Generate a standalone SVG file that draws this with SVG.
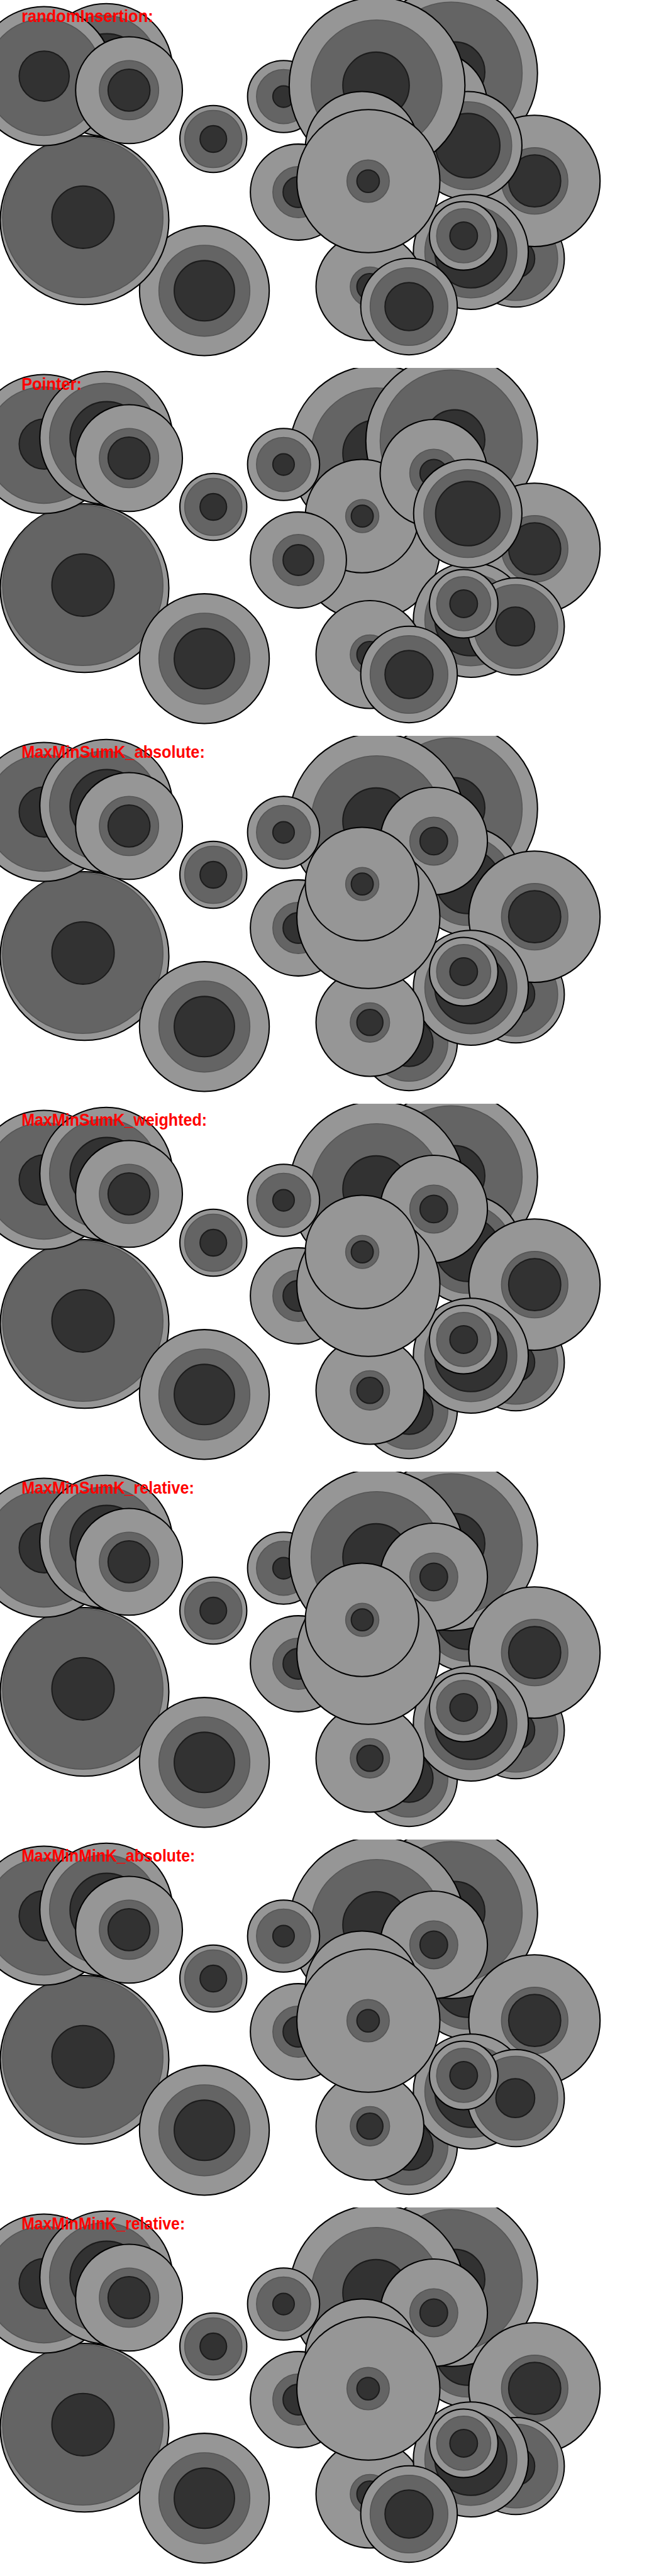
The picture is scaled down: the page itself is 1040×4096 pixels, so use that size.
<svg xmlns="http://www.w3.org/2000/svg" xmlns:xlink="http://www.w3.org/1999/xlink" width="1040" height="4096" viewBox="0 0 1040 4096">
<defs>
<style>
.o{fill:#969696;stroke:#000;stroke-width:2.5}
.m{fill:#646464;stroke:#565656;stroke-width:2}
.i{fill:#323232;stroke:#1c1c1c;stroke-width:2.5}
.lbl{font-family:"Liberation Sans",Arial,sans-serif;font-size:34px;font-weight:bold;fill:#ff0000}
</style>
<clipPath id="pc"><rect x="0" y="0" width="1280" height="720"/></clipPath>
<g id="dA"><circle class="o" cx="86" cy="149" r="136"/><circle class="m" cx="86" cy="151" r="114"/><circle class="i" cx="86.5" cy="149" r="49"/></g>
<g id="dB"><circle class="o" cx="208" cy="137" r="130"/><circle class="m" cx="204" cy="137" r="107"/><circle class="i" cx="209" cy="138" r="72"/></g>
<g id="dC"><circle class="o" cx="252.5" cy="176.5" r="104.5"/><circle class="m" cx="252.5" cy="176.5" r="58"/><circle class="i" cx="252.5" cy="176.5" r="41"/></g>
<g id="dD"><circle class="o" cx="165.5" cy="431" r="165"/><circle class="m" cx="162" cy="425.5" r="157"/><circle class="i" cx="162.5" cy="425" r="61"/></g>
<g id="dE"><circle class="o" cx="417.5" cy="272" r="65.5"/><circle class="m" cx="417.5" cy="272" r="56"/><circle class="i" cx="417.5" cy="272" r="26"/></g>
<g id="dF"><circle class="o" cx="400" cy="569" r="127"/><circle class="m" cx="400" cy="569" r="89"/><circle class="i" cx="400" cy="569" r="59"/></g>
<g id="dG"><circle class="o" cx="555" cy="189" r="70.5"/><circle class="m" cx="555" cy="189" r="53"/><circle class="i" cx="555" cy="189" r="21"/></g>
<g id="dH"><circle class="o" cx="738" cy="167" r="172"/><circle class="m" cx="737" cy="167" r="128"/><circle class="i" cx="736" cy="167" r="65"/></g>
<g id="dI"><circle class="o" cx="884" cy="143" r="168"/><circle class="m" cx="883" cy="143" r="139"/><circle class="i" cx="890" cy="141" r="59"/></g>
<g id="dJ"><circle class="o" cx="849" cy="206" r="105"/><circle class="m" cx="849" cy="206" r="47"/><circle class="i" cx="849" cy="206" r="27"/></g>
<g id="dK"><circle class="o" cx="915.5" cy="285" r="106"/><circle class="m" cx="915.5" cy="285" r="86"/><circle class="i" cx="915.5" cy="285" r="63"/></g>
<g id="dL"><circle class="o" cx="1046" cy="354" r="128.5"/><circle class="m" cx="1046.5" cy="354" r="65"/><circle class="i" cx="1046.5" cy="354" r="51"/></g>
<g id="dM"><circle class="o" cx="721" cy="354.5" r="140"/><circle class="m" cx="720.5" cy="354.5" r="41.5"/><circle class="i" cx="720.5" cy="354.5" r="22"/></g>
<g id="dN"><circle class="o" cx="708.5" cy="290" r="111"/><circle class="m" cx="709" cy="290" r="32.5"/><circle class="i" cx="709" cy="290" r="21.5"/></g>
<g id="dO"><circle class="o" cx="584" cy="376" r="94"/><circle class="m" cx="584" cy="376" r="50"/><circle class="i" cx="584" cy="376" r="30"/></g>
<g id="dP"><circle class="o" cx="724" cy="561" r="105.5"/><circle class="m" cx="724" cy="561" r="38.5"/><circle class="i" cx="724" cy="561" r="25.5"/></g>
<g id="dQ"><circle class="o" cx="800.5" cy="600" r="94.5"/><circle class="m" cx="800.5" cy="600" r="76"/><circle class="i" cx="800.5" cy="600" r="47"/></g>
<g id="dR"><circle class="o" cx="907.5" cy="461.5" r="67"/><circle class="m" cx="907.5" cy="461.5" r="53"/><circle class="i" cx="907.5" cy="461.5" r="27"/></g>
<g id="dS"><circle class="o" cx="1009.5" cy="506" r="95"/><circle class="m" cx="1009.5" cy="506" r="82"/><circle class="i" cx="1008.5" cy="506" r="38"/></g>
<g id="dT"><circle class="o" cx="921.5" cy="493" r="112.5"/><circle class="m" cx="921.5" cy="493" r="90"/><circle class="i" cx="921.5" cy="493" r="70.5"/></g>
</defs>
<rect x="0" y="0" width="1040" height="4096" fill="#ffffff"/>
<g transform="scale(0.8125)">
<g id="panel1">
<g clip-path="url(#pc)">
<use id="p1-E" href="#dE"/><use id="p1-F" href="#dF"/><use id="p1-D" href="#dD"/><use id="p1-B" href="#dB"/><use id="p1-A" href="#dA"/><use id="p1-C" href="#dC"/>
<use id="p1-I" href="#dI"/><use id="p1-G" href="#dG"/><use id="p1-J" href="#dJ"/><use id="p1-S" href="#dS"/><use id="p1-L" href="#dL"/><use id="p1-K" href="#dK"/><use id="p1-H" href="#dH"/><use id="p1-N" href="#dN"/><use id="p1-O" href="#dO"/><use id="p1-T" href="#dT"/><use id="p1-P" href="#dP"/><use id="p1-M" href="#dM"/><use id="p1-Q" href="#dQ"/><use id="p1-R" href="#dR"/>
</g>
<text class="lbl" x="42" y="43.5" textLength="258" lengthAdjust="spacingAndGlyphs">randomInsertion:</text>
</g>
<g id="panel2" transform="translate(0,720)">
<g clip-path="url(#pc)">
<use id="p2-E" href="#dE"/><use id="p2-D" href="#dD"/><use id="p2-F" href="#dF"/><use id="p2-A" href="#dA"/><use id="p2-B" href="#dB"/><use id="p2-C" href="#dC"/>
<use id="p2-H" href="#dH"/><use id="p2-G" href="#dG"/><use id="p2-I" href="#dI"/><use id="p2-M" href="#dM"/><use id="p2-N" href="#dN"/><use id="p2-J" href="#dJ"/><use id="p2-L" href="#dL"/><use id="p2-T" href="#dT"/><use id="p2-K" href="#dK"/><use id="p2-O" href="#dO"/><use id="p2-P" href="#dP"/><use id="p2-S" href="#dS"/><use id="p2-R" href="#dR"/><use id="p2-Q" href="#dQ"/>
</g>
<text class="lbl" x="42" y="43.5" textLength="118" lengthAdjust="spacingAndGlyphs">Pointer:</text>
</g>
<g id="panel3" transform="translate(0,1440)">
<g clip-path="url(#pc)">
<use id="p3-E" href="#dE"/><use id="p3-D" href="#dD"/><use id="p3-F" href="#dF"/><use id="p3-A" href="#dA"/><use id="p3-B" href="#dB"/><use id="p3-C" href="#dC"/>
<use id="p3-I" href="#dI"/><use id="p3-H" href="#dH"/><use id="p3-G" href="#dG"/><use id="p3-O" href="#dO"/><use id="p3-K" href="#dK"/><use id="p3-S" href="#dS"/><use id="p3-L" href="#dL"/><use id="p3-J" href="#dJ"/><use id="p3-Q" href="#dQ"/><use id="p3-T" href="#dT"/><use id="p3-P" href="#dP"/><use id="p3-M" href="#dM"/><use id="p3-N" href="#dN"/><use id="p3-R" href="#dR"/>
</g>
<text class="lbl" x="42" y="43.5" textLength="359" lengthAdjust="spacingAndGlyphs">MaxMinSumK_absolute:</text>
</g>
<g id="panel4" transform="translate(0,2160)">
<g clip-path="url(#pc)">
<use id="p4-E" href="#dE"/><use id="p4-D" href="#dD"/><use id="p4-F" href="#dF"/><use id="p4-A" href="#dA"/><use id="p4-B" href="#dB"/><use id="p4-C" href="#dC"/>
<use id="p4-I" href="#dI"/><use id="p4-H" href="#dH"/><use id="p4-G" href="#dG"/><use id="p4-O" href="#dO"/><use id="p4-K" href="#dK"/><use id="p4-S" href="#dS"/><use id="p4-L" href="#dL"/><use id="p4-J" href="#dJ"/><use id="p4-Q" href="#dQ"/><use id="p4-T" href="#dT"/><use id="p4-P" href="#dP"/><use id="p4-M" href="#dM"/><use id="p4-N" href="#dN"/><use id="p4-R" href="#dR"/>
</g>
<text class="lbl" x="42" y="43.5" textLength="363" lengthAdjust="spacingAndGlyphs">MaxMinSumK_weighted:</text>
</g>
<g id="panel5" transform="translate(0,2880)">
<g clip-path="url(#pc)">
<use id="p5-E" href="#dE"/><use id="p5-D" href="#dD"/><use id="p5-F" href="#dF"/><use id="p5-A" href="#dA"/><use id="p5-B" href="#dB"/><use id="p5-C" href="#dC"/>
<use id="p5-O" href="#dO"/><use id="p5-K" href="#dK"/><use id="p5-I" href="#dI"/><use id="p5-G" href="#dG"/><use id="p5-H" href="#dH"/><use id="p5-S" href="#dS"/><use id="p5-L" href="#dL"/><use id="p5-J" href="#dJ"/><use id="p5-Q" href="#dQ"/><use id="p5-T" href="#dT"/><use id="p5-P" href="#dP"/><use id="p5-M" href="#dM"/><use id="p5-N" href="#dN"/><use id="p5-R" href="#dR"/>
</g>
<text class="lbl" x="42" y="43.5" textLength="338" lengthAdjust="spacingAndGlyphs">MaxMinSumK_relative:</text>
</g>
<g id="panel6" transform="translate(0,3600)">
<g clip-path="url(#pc)">
<use id="p6-E" href="#dE"/><use id="p6-D" href="#dD"/><use id="p6-F" href="#dF"/><use id="p6-A" href="#dA"/><use id="p6-B" href="#dB"/><use id="p6-C" href="#dC"/>
<use id="p6-O" href="#dO"/><use id="p6-K" href="#dK"/><use id="p6-I" href="#dI"/><use id="p6-H" href="#dH"/><use id="p6-G" href="#dG"/><use id="p6-J" href="#dJ"/><use id="p6-N" href="#dN"/><use id="p6-L" href="#dL"/><use id="p6-Q" href="#dQ"/><use id="p6-T" href="#dT"/><use id="p6-S" href="#dS"/><use id="p6-P" href="#dP"/><use id="p6-M" href="#dM"/><use id="p6-R" href="#dR"/>
</g>
<text class="lbl" x="42" y="43.5" textLength="340" lengthAdjust="spacingAndGlyphs">MaxMinMinK_absolute:</text>
</g>
<g id="panel7" transform="translate(0,4320)">
<g clip-path="url(#pc)">
<use id="p7-E" href="#dE"/><use id="p7-D" href="#dD"/><use id="p7-F" href="#dF"/><use id="p7-A" href="#dA"/><use id="p7-B" href="#dB"/><use id="p7-C" href="#dC"/>
<use id="p7-O" href="#dO"/><use id="p7-K" href="#dK"/><use id="p7-I" href="#dI"/><use id="p7-H" href="#dH"/><use id="p7-G" href="#dG"/><use id="p7-J" href="#dJ"/><use id="p7-N" href="#dN"/><use id="p7-L" href="#dL"/><use id="p7-S" href="#dS"/><use id="p7-P" href="#dP"/><use id="p7-T" href="#dT"/><use id="p7-Q" href="#dQ"/><use id="p7-M" href="#dM"/><use id="p7-R" href="#dR"/>
</g>
<text class="lbl" x="42" y="43.5" textLength="320" lengthAdjust="spacingAndGlyphs">MaxMinMinK_relative:</text>
</g>
<g id="connectors"/>
</g>
</svg>
